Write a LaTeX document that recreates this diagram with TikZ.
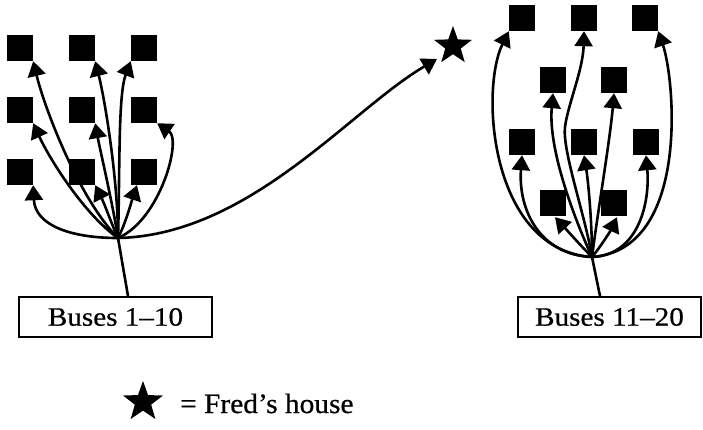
\documentclass[tikz,border=0pt]{standalone}
\usepackage{fontspec}
\setmainfont{Liberation Serif}[FakeStretch=1.1, FakeBold=0.6]
\newfontfamily\legfont{Liberation Serif}[FakeStretch=1.05, FakeBold=0.6]
\usetikzlibrary{arrows.meta,shapes.geometric,calc}
\begin{document}
\begin{tikzpicture}[x=1bp,y=-1bp,
  sq/.style={fill=black, minimum size=26bp, inner sep=0pt},
  con/.style={line width=2.6bp, -{Triangle[length=15bp,width=18bp]}},
  plainline/.style={line width=2.6bp},
  bus/.style={draw, line width=1.9bp, minimum height=40bp, inner sep=0pt, font=\fontsize{26.5bp}{30bp}\selectfont},
  fstar/.style={star, star points=5, star point ratio=2.45, fill=black, inner sep=0pt, minimum size=#1}]
\useasboundingbox (0,0) rectangle (703,429);

% left group squares
\node[sq] (s11) at (20,48) {};
\node[sq] (s12) at (82,48) {};
\node[sq] (s13) at (144,48) {};
\node[sq] (s21) at (20,110) {};
\node[sq] (s22) at (82,110) {};
\node[sq] (s23) at (144,110) {};
\node[sq] (s31) at (20,172) {};
\node[sq] (s32) at (82,172) {};
\node[sq] (s33) at (144,172) {};

% right group squares
\node[sq] (r11) at (522,18) {};
\node[sq] (r12) at (584,18) {};
\node[sq] (r13) at (645,18) {};
\node[sq] (r21) at (553,80) {};
\node[sq] (r22) at (614,80) {};
\node[sq] (r31) at (522,142) {};
\node[sq] (r32) at (584,142) {};
\node[sq] (r33) at (646,142) {};
\node[sq] (r41) at (553,203) {};
\node[sq] (r42) at (614,203) {};

% star
\node[fstar=40bp] (house) at (453,46) {};

% hubs
\coordinate (hubL) at (118,238);
\coordinate (hubR) at (592,257);

% boxes
\node[bus, minimum width=193bp] (b1) at (115.5,317) {Buses 1–10};
\node[bus, minimum width=183bp] (b2) at (609.5,317) {Buses 11–20};

\draw[plainline] ($(b1.north)+(12.5,0)$) -- (hubL);
\draw[plainline] ($(b2.north)+(-9.5,0)$) -- (hubR);

% left arrows
\draw[con] (hubL) .. controls (80,200) and (45,110) .. (s11.south east);
\draw[con] (hubL) .. controls (118,180) and (105,100) .. (s12.south east);
\draw[con] (hubL) .. controls (120,170) and (118,95) .. (s13.south west);
\draw[con] (hubL) .. controls (85,215) and (50,160) .. (s21.south east);
\draw[con] (hubL) .. controls (112,200) and (100,150) .. (s22.south east);
\draw[con] (hubL) .. controls (160,220) and (182,140) .. (s23.south east);
\draw[con] (hubL) .. controls (70,238) and (35,225) .. (s31.south east);
\draw[con] (hubL) .. controls (112,225) and (105,205) .. (s32.south east);
\draw[con] (hubL) .. controls (125,225) and (132,200) .. ($(s33.south)+(-7,0)$);
\draw[con] (hubL) .. controls (250,235) and (350,110) .. ($(house.center)+(-16,13)$);

% right arrows
\draw[con] (hubR) .. controls (490,250) and (480,90) .. (r11.south west);
\draw[con] (hubR) .. controls (585,215) and (562,150) .. (565,127) .. controls (568,104) and (583,70) .. (r12.south);
\draw[con] (hubR) .. controls (690,250) and (675,80) .. (r13.south east);
\draw[con] (hubR) .. controls (575,220) and (548,150) .. (r21.south);
\draw[con] (hubR) .. controls (598,210) and (610,140) .. (r22.south);
\draw[con] (hubR) .. controls (540,255) and (518,210) .. (r31.south);
\draw[con] (hubR) .. controls (592,220) and (588,180) .. (r32.south);
\draw[con] (hubR) .. controls (640,255) and (650,200) .. (r33.south);
\draw[con] (hubR) .. controls (580,245) and (565,228) .. ($(r41.south)+(2,1)$);
\draw[con] (hubR) .. controls (602,245) and (612,228) .. ($(r42.south)+(3,1)$);

% legend
\node[fstar=42bp] (legstar) at (143,402) {};
\node[anchor=base west, inner sep=0pt, font=\legfont\fontsize{28bp}{30bp}\selectfont] (legtext) at (180,413) {= Fred’s house};
\end{tikzpicture}
\end{document}
